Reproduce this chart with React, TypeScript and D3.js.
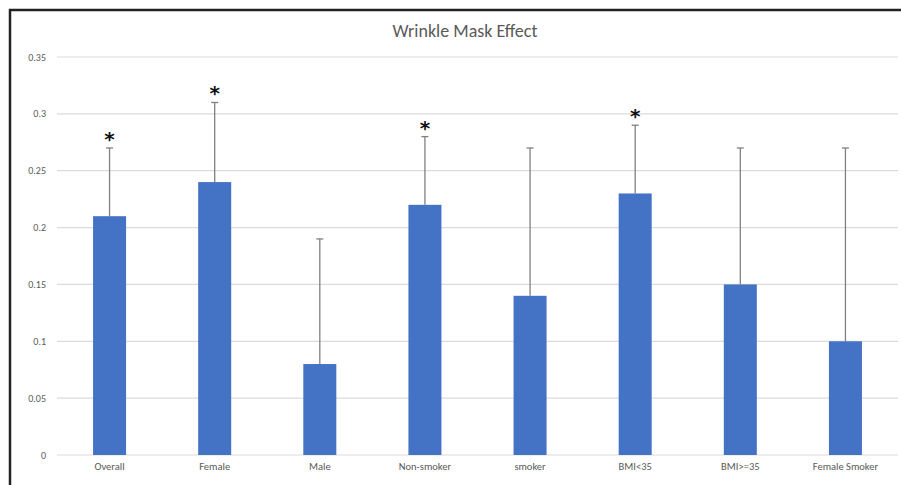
import React from "react";
import * as d3 from "d3";

const categories = ["Overall", "Female", "Male", "Non-smoker", "smoker", "BMI<35", "BMI>=35", "Female Smoker"];
const values = [0.21, 0.24, 0.08, 0.22, 0.14, 0.23, 0.15, 0.10];
const errorsUp = [0.06, 0.07, 0.11, 0.06, 0.13, 0.06, 0.12, 0.17];
const significant = [true, true, false, true, false, true, false, false];
const yTicks = [0, 0.05, 0.1, 0.15, 0.2, 0.25, 0.3, 0.35];
const yTickLabels = ["0", "0.05", "0.1", "0.15", "0.2", "0.25", "0.3", "0.35"];
const title = "Wrinkle Mask Effect";

const W = 901;
const H = 485;
const left = 57;
const right = 898;
const top = 57;
const bottom = 455;

export default function App() {
  const x = d3.scaleBand<string>().domain(categories).range([left, right]).paddingInner(0.686).paddingOuter(0.343);
  const y = d3.scaleLinear().domain([0, 0.35]).range([bottom, top]);
  const bw = x.bandwidth();
  const font = "Carlito, 'Open Sans', 'Liberation Sans', sans-serif";
  return (
    <svg width={W} height={H} style={{ position: "fixed", left: 0, top: 0, background: "#fff" }} fontFamily={font}>
      <rect x={0} y={0} width={W} height={H} fill="#fff" />
      <path d={`M10,${H + 5} L10,10 L${W + 5},10`} fill="none" stroke="#222" strokeWidth={2.5} />
      <text x={465} y={37} textAnchor="middle" fontSize={18} fill="#595959">{title}</text>
      {yTicks.map((t, i) => (
        <g key={i}>
          <line x1={left} x2={right} y1={y(t)} y2={y(t)} stroke={"#dedada"} strokeWidth={1.2} />
          <text x={46} y={y(t) + 3.5} textAnchor="end" fontSize={10} fill="#595959">{yTickLabels[i]}</text>
        </g>
      ))}
      {categories.map((c, i) => {
        const cx = (x(c) as number) + bw / 2;
        const top = y(values[i] + errorsUp[i]);
        return (
          <g key={c}>
            <rect x={x(c)} y={y(values[i])} width={bw} height={bottom - y(values[i])} fill="#4472C4" />
            <line x1={cx} x2={cx} y1={y(values[i])} y2={top} stroke="#808080" strokeWidth={1.3} />
            <line x1={cx - 3.5} x2={cx + 3.5} y1={top} y2={top} stroke="#808080" strokeWidth={1.3} />
            {significant[i] && (
              <text x={cx} y={top - 2} textAnchor="middle" fontSize={20} fontWeight="bold" fill="#111" fontFamily="'DejaVu Sans', sans-serif">*</text>
            )}
            <text x={cx} y={470} textAnchor="middle" fontSize={10.5} fill="#595959">{c}</text>
          </g>
        );
      })}
    </svg>
  );
}
